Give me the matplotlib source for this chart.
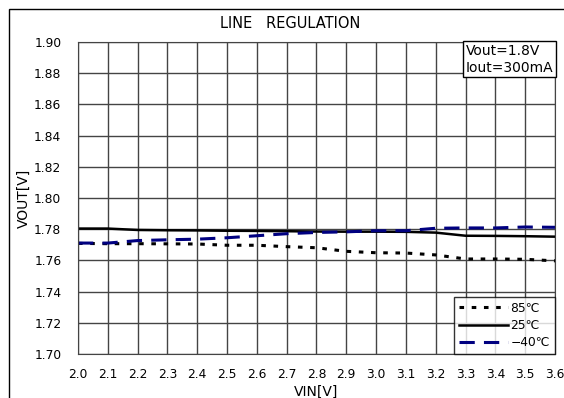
import numpy as np
import matplotlib.pyplot as plt
from matplotlib.patches import Rectangle

plt.rcParams['font.family'] = ['DejaVu Sans', 'Noto Sans CJK JP']

vin = [2.0, 2.1, 2.2, 2.3, 2.4, 2.5, 2.6, 2.7, 2.8, 2.9, 3.0, 3.1, 3.2, 3.3, 3.4, 3.5, 3.6]
v_85 = [1.7709, 1.7707, 1.7707, 1.7706, 1.7705, 1.7697, 1.7697, 1.7688, 1.7681, 1.7658,
        1.7649, 1.7647, 1.7635, 1.7609, 1.7609, 1.7607, 1.7597]
v_25 = [1.7804, 1.7804, 1.7795, 1.7793, 1.7792, 1.7790, 1.7789, 1.7787, 1.7785, 1.7784,
        1.7784, 1.7783, 1.7778, 1.7758, 1.7757, 1.7755, 1.7752]
v_m40 = [1.7711, 1.7711, 1.7727, 1.7732, 1.7736, 1.7745, 1.7758, 1.7771, 1.7779, 1.7783,
         1.7790, 1.7790, 1.7806, 1.7808, 1.7808, 1.7814, 1.7812]

xticks = np.round(np.arange(2.0, 3.61, 0.1), 1)
yticks = np.round(np.arange(1.70, 1.901, 0.02), 2)

fig = plt.figure(figsize=(5.64, 3.98), dpi=100)
ax = fig.add_axes([0.1383, 0.1106, 0.8457, 0.7839])

# outer frame of the picture
fig.patches.append(Rectangle((9 / 564, -0.1), 1.0, (398 - 9) / 398 + 0.1,
                             transform=fig.transFigure, fill=False,
                             edgecolor='black', linewidth=1.0))

ax.plot(vin, v_85, color='black', linestyle=(0, (1.5, 2.5)), linewidth=2.2, label='85℃')
ax.plot(vin, v_25, color='black', linestyle='-', linewidth=1.8, label='25℃')
ax.plot(vin, v_m40, color='#000080', linestyle=(0, (5, 3)), linewidth=2.2, label='−40℃')

ax.set_xlim(2.0, 3.6)
ax.set_ylim(1.70, 1.90)
ax.set_xticks(xticks)
ax.set_yticks(yticks)
ax.set_xticklabels([f'{v:.1f}' for v in xticks], fontsize=8.8)
ax.set_yticklabels([f'{v:.2f}' for v in yticks], fontsize=8.8)
ax.tick_params(axis='x', length=0, pad=10)
ax.tick_params(axis='y', length=0, pad=12)
ax.grid(True, color='#444444', linewidth=1.0)
for s in ax.spines.values():
    s.set_color('#444444')

ax.set_xlabel('VIN[V]', fontsize=10, labelpad=3)
ax.set_ylabel('VOUT[V]', fontsize=10, labelpad=2)
fig.text(0.514, 0.942, 'LINE   REGULATION', ha='center', va='center', fontsize=10.5)

ax.text(0.996, 0.994, 'Vout=1.8V\nIout=300mA', transform=ax.transAxes,
        ha='right', va='top', multialignment='left', fontsize=10, linespacing=1.25,
        bbox=dict(boxstyle='square,pad=0.2', facecolor='white', edgecolor='black', linewidth=1))

leg = ax.legend(loc='lower right', fontsize=8.8, frameon=True, fancybox=False,
                borderaxespad=0, handlelength=4, handletextpad=0.2,
                labelspacing=0.35, borderpad=0.4)
leg.get_frame().set_edgecolor('black')
leg.get_frame().set_linewidth(1)

fig.savefig('out.png', dpi=100)
